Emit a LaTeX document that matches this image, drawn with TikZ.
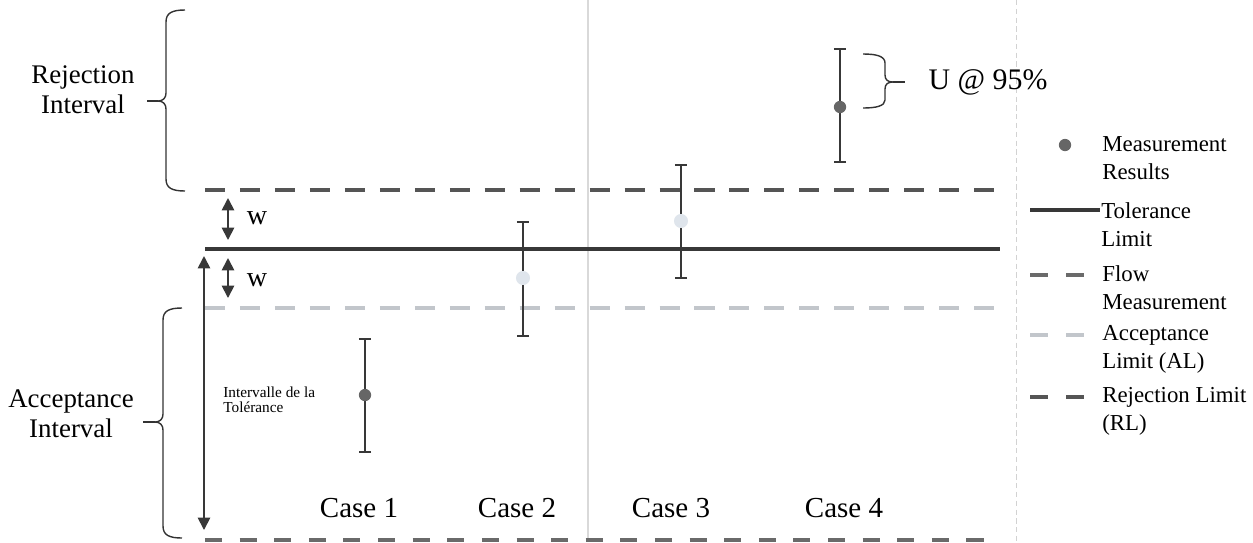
\documentclass[tikz,border=0pt]{standalone}
\usepackage{fontspec}
\setmainfont{Liberation Serif}
\usetikzlibrary{arrows.meta}

\definecolor{rejcol}{HTML}{555555}
\definecolor{tolcol}{HTML}{383838}
\definecolor{acccol}{HTML}{C2C6CB}
\definecolor{flowcol}{HTML}{6A6A6A}
\definecolor{dotdark}{HTML}{666666}
\definecolor{dotlight}{HTML}{DFE5EC}

\tikzset{
  rejline/.style={rejcol,line width=2.3pt,dash pattern=on 11.4pt off 8.5pt},
  tolline/.style={tolcol,line width=2.6pt},
  accline/.style={acccol,line width=1.8pt,dash pattern=on 11.4pt off 8.5pt},
  flowline/.style={flowcol,line width=2.2pt,dash pattern=on 9.7pt off 10pt},
  legdash/.style={dash pattern=on 10pt off 10.5pt},
  errbar/.style={tolcol,line width=1pt,{Bar[width=7pt]}-{Bar[width=7pt]}},
  dblarrow/.style={tolcol,line width=1pt,{Triangle[width=7pt,length=7pt]}-{Triangle[width=7pt,length=7pt]}},
  bracepath/.style={black!80,line width=0.8pt},
  mdot/.style={circle,inner sep=0pt,minimum size=7pt},
  sidelab/.style={align=center,font=\fontsize{15.3}{17}\selectfont},
  caselab/.style={font=\fontsize{16.5}{19}\selectfont},
  leglab/.style={anchor=west,align=left,inner sep=0pt,font=\fontsize{13}{16}\selectfont},
}

\begin{document}
\begin{tikzpicture}[x=0.02cm,y=-0.02cm]
\useasboundingbox (0,0) rectangle (1253,542);
\draw[gray!30,line width=0.6pt] (588,0) -- (588,542);
\draw[gray!35,line width=0.5pt,dash pattern=on 3pt off 2pt] (1016,0) -- (1016,542);

\coordinate (rl0) at (205,190); \coordinate (rl1) at (1000,190);
\coordinate (tl0) at (205,249); \coordinate (tl1) at (1000,249);
\coordinate (al0) at (205,308); \coordinate (al1) at (1000,308);
\coordinate (fl0) at (205,540); \coordinate (fl1) at (1000,540);
\draw[rejline] (rl0) -- (rl1);
\draw[tolline] (tl0) -- (tl1);
\draw[accline] (al0) -- (al1);
\draw[flowline] (fl0) -- (fl1);

\draw[bracepath] (185,10) .. controls (172,10) and (166,13) .. (166,22) -- (166,93)
  .. controls (166,98) and (163,101) .. (158,101) .. controls (163,101) and (166,104) .. (166,109)
  -- (166,179) .. controls (166,188) and (172,191) .. (185,191);
\coordinate (rbtip) at (158,101); \coordinate (rbend) at (147,101);
\draw[bracepath] (rbtip) -- (rbend);
\node[sidelab] (rejint) at (83,90) {Rejection\\Interval};

\draw[bracepath] (182,308) .. controls (169,308) and (163,311) .. (163,320) -- (163,414)
  .. controls (163,419) and (160,422) .. (155,422) .. controls (160,422) and (163,425) .. (163,430)
  -- (163,526) .. controls (163,535) and (169,538) .. (182,538);
\coordinate (abtip) at (155,422); \coordinate (abend) at (143,422);
\draw[bracepath] (abtip) -- (abend);
\node[sidelab] (accint) at (71,414) {Acceptance\\Interval};

\coordinate (w1a) at (228,198); \coordinate (w1b) at (228,240);
\coordinate (w2a) at (228,258); \coordinate (w2b) at (228,298);
\draw[dblarrow] (w1a) -- (w1b);
\draw[dblarrow] (w2a) -- (w2b);
\node[sidelab,font=\fontsize{16}{18}\selectfont] (w1) at (257,218) {w};
\node[sidelab,font=\fontsize{16}{18}\selectfont] (w2) at (257,280) {w};

\coordinate (ti0) at (204,256); \coordinate (ti1) at (204,530);
\draw[dblarrow] (ti0) -- (ti1);
\node[anchor=west,align=left,inner sep=0pt,font=\fontsize{8.7}{8.7}\selectfont] (tolint) at (223,400) {Intervalle de la\\Tolérance};

\coordinate (c1t) at (365,338); \coordinate (c1b) at (365,453);
\coordinate (c2t) at (523,221); \coordinate (c2b) at (523,337);
\coordinate (c3t) at (681,164); \coordinate (c3b) at (681,279);
\coordinate (c4t) at (840,48); \coordinate (c4b) at (840,163);
\draw[errbar] (c1t) -- (c1b);
\draw[errbar] (c2t) -- (c2b);
\draw[errbar] (c3t) -- (c3b);
\draw[errbar] (c4t) -- (c4b);
\node[mdot,fill=dotdark] (m1) at (365,395) {};
\node[mdot,fill=dotlight,minimum size=8pt] (m2) at (523,278) {};
\node[mdot,fill=dotlight,minimum size=8pt] (m3) at (681,221) {};
\node[mdot,fill=dotdark] (m4) at (840,107) {};

\draw[bracepath] (863,54) .. controls (876,54) and (885,56) .. (885,63) -- (885,75)
  .. controls (885,80) and (888,82) .. (893,82) .. controls (888,82) and (885,84) .. (885,89)
  -- (885,100) .. controls (885,106) and (876,108) .. (863,108);
\coordinate (ubtip) at (893,82); \coordinate (ubend) at (905,82);
\draw[bracepath] (ubtip) -- (ubend);
\node[caselab,font=\fontsize{17}{19}\selectfont] (unc) at (988,82) {U @ 95\%};

\node[caselab] (case1) at (359,508) {Case 1};
\node[caselab] (case2) at (517,508) {Case 2};
\node[caselab] (case3) at (671,508) {Case 3};
\node[caselab] (case4) at (844,508) {Case 4};

\node[mdot,fill=dotdark] (lgdot) at (1065,145) {};
\node[leglab] (lgres) at (1102,158) {Measurement\\Results};
\coordinate (lgt0) at (1030,210); \coordinate (lgt1) at (1100,210);
\draw[tolcol,line width=1.8pt] (lgt0) -- (lgt1);
\node[leglab] (lgtol) at (1101,225) {Tolerance\\Limit};
\coordinate (lgf0) at (1030,275); \coordinate (lgf1) at (1085,275);
\draw[flowline,legdash] (lgf0) -- (lgf1);
\node[leglab] (lgflow) at (1102,288) {Flow\\Measurement};
\coordinate (lga0) at (1030,335); \coordinate (lga1) at (1085,335);
\draw[accline,legdash] (lga0) -- (lga1);
\node[leglab] (lgacc) at (1102,349) {Acceptance\\Limit (AL)};
\coordinate (lgr0) at (1030,397); \coordinate (lgr1) at (1085,397);
\draw[rejline,legdash] (lgr0) -- (lgr1);
\node[leglab] (lgrej) at (1102,411) {Rejection Limit\\(RL)};
\end{tikzpicture}
\end{document}
